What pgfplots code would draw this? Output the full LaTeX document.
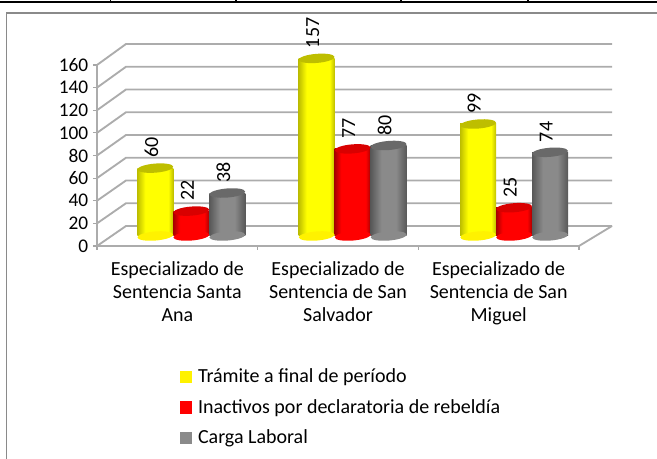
\documentclass[border=0pt]{standalone}
\usepackage{pgfplots}
\pgfplotsset{compat=1.18}
\usepackage{pgfplotstable}
\usepackage{fontspec}
\setmainfont{Carlito}
\definecolor{gridgray}{HTML}{ACACAC}
\definecolor{framegray}{HTML}{8A8A8A}
\definecolor{ydark}{HTML}{BEBE00}
\definecolor{rdark}{HTML}{A80000}
\definecolor{gdark}{HTML}{585858}
\definecolor{gmid}{HTML}{8A8A8A}
\pgfdeclarehorizontalshading{cylyellow}{100bp}{color(0bp)=(ydark); color(25bp)=(ydark); color(36bp)=(yellow); color(68bp)=(yellow); color(75bp)=(ydark); color(100bp)=(ydark)}
\pgfdeclarehorizontalshading{cylred}{100bp}{color(0bp)=(rdark); color(25bp)=(rdark); color(34bp)=(red); color(68bp)=(red); color(75bp)=(rdark); color(100bp)=(rdark)}
\pgfdeclarehorizontalshading{cylgray}{100bp}{color(0bp)=(gdark); color(25bp)=(gdark); color(40bp)=(gmid); color(60bp)=(gmid); color(75bp)=(gdark); color(100bp)=(gdark)}
\pgfdeclareplotmark{cap}{\pgfpathellipse{\pgfpointorigin}{\pgfqpoint{13.4pt}{1.1pt}}{\pgfqpoint{-0.3pt}{3.4pt}}\pgfusepathqfill}
% bar x = group centre -/+ one bar width (36 px of 161 px per group)
\pgfplotstableread{
x y
-0.224 60
0.78 157
1.785 99
}\tramite
\pgfplotstableread{
x y
0 22
1.004 77
2.009 25
}\inactivos
\pgfplotstableread{
x y
0.224 38
1.228 80
2.233 74
}\carga
\pgfplotsset{
  databar/.style={ybar, bar width=27pt, bar shift=0pt, draw=none, shading=#1},
  datalabel/.style={nodes near coords, point meta=explicit symbolic,
    every node near coord/.style={rotate=90, anchor=west, inner sep=0pt, xshift=7.5pt, yshift=3pt, font=\fontsize{15}{15}\selectfont, text=black}},
}
\begin{document}
\begin{tikzpicture}
% background in picture pixels
\begin{axis}[
  at={(0pt,0pt)}, anchor=south west, scale only axis,
  width=492.75pt, height=344.25pt,
  xmin=0, xmax=657, ymin=0, ymax=459, y dir=reverse,
  hide axis, clip=true,
  legend style={at={(0.274,0.197)}, anchor=north west, draw=none, fill=none,
    font=\fontsize{15}{15}\selectfont, row sep=11pt, inner sep=0pt,
    nodes={inner sep=0pt, anchor=west}},
  legend cell align=left,
  legend image code/.code={\fill[#1] (0pt,-4.2pt) rectangle (8.4pt,4.2pt);},
]
\addlegendimage{yellow}
\addlegendentry{\hspace{4.5pt}Trámite a final de período}
\addlegendimage{red}
\addlegendentry{\hspace{4.5pt}Inactivos por declaratoria de rebeldía}
\addlegendimage{gmid}
\addlegendentry{\hspace{4.5pt}Carga Laboral}
\draw[black, line width=1.5pt] (axis cs:0,1.7) -- (axis cs:657,1.7);
\draw[framegray, line width=1.1pt] (axis cs:657,13) -- (axis cs:6.5,13) -- (axis cs:6.5,459);
\pgfplotsinvokeforeach{110.5,236,401,528}{
  \draw[black, line width=0.9pt] (axis cs:#1,0) -- (axis cs:#1,2);
}
\pgfplotsinvokeforeach{0,20,40,60,80,100,120,140,160}{
  \draw[gridgray, line width=1.4pt] (axis cs:97,{246-1.13125*#1}) -- (axis cs:126,{226-1.1375*#1}) -- (axis cs:612,{226-1.1375*#1});
}
\draw[gridgray, line width=1.4pt] (axis cs:579,246) -- (axis cs:612,226);
\end{axis}
% front plane: ticks and labels
\begin{axis}[
  at={(72.75pt,159.75pt)}, anchor=south west, scale only axis,
  width=361.5pt, height=135.75pt,
  xmin=-0.5, xmax=2.5, ymin=0, ymax=160,
  axis lines=left, axis line style={gridgray, line width=1.4pt, -},
  ytick={0,20,...,160},
  xtick={-0.5,0.5,1.5,2.5}, xticklabels={},
  extra x ticks={0,1,2},
  extra x tick labels={Especializado de\\Sentencia Santa\\Ana, Especializado de\\Sentencia de San\\Salvador, Especializado de\\Sentencia de San\\Miguel},
  extra x tick style={major tick length=0pt, tick label style={align=center, yshift=-8.5pt,
     font=\fontsize{15}{17.2}\selectfont}},
  tick style={gridgray, line width=0.8pt, black!35},
  major tick length=3pt, tick align=outside,
  y tick label style={font=\fontsize{14.5}{14.5}\selectfont, /pgf/number format/assume math mode=true},
]
\end{axis}
% bars, half way into the depth of the plot
\begin{axis}[
  at={(83.25pt,167.25pt)}, anchor=south west, scale only axis,
  width=361.5pt, height=135.75pt,
  xmin=-0.5, xmax=2.5, ymin=0, ymax=160,
  hide axis, clip=false,
]
\addplot[only marks, mark=cap, mark options={fill=yellow}] table[x=x, y expr=0] {\tramite};
\addplot[databar=cylyellow] coordinates {(-0.224,60)};
\addplot[databar=cylyellow] coordinates {(0.78,157)};
\addplot[databar=cylyellow] coordinates {(1.785,99)};
\addplot[only marks, mark=cap, mark options={fill=ydark}] table[x=x, y=y] {\tramite};
\addplot[only marks, mark=cap, mark options={fill=red}] table[x=x, y expr=0] {\inactivos};
\addplot[databar=cylred] coordinates {(0,22)};
\addplot[databar=cylred] coordinates {(1.004,77)};
\addplot[databar=cylred] coordinates {(2.009,25)};
\addplot[only marks, mark=cap, mark options={fill=red!85!black}] table[x=x, y=y] {\inactivos};
\addplot[only marks, mark=cap, mark options={fill=gmid}] table[x=x, y expr=0] {\carga};
\addplot[databar=cylgray] coordinates {(0.224,38)};
\addplot[databar=cylgray] coordinates {(1.228,80)};
\addplot[databar=cylgray] coordinates {(2.233,74)};
\addplot[only marks, mark=cap, mark options={fill=gdark!90!white}] table[x=x, y=y] {\carga};
\addplot[draw=none, datalabel] table[x=x, y=y, meta=y] {\tramite};
\addplot[draw=none, datalabel] table[x=x, y=y, meta=y] {\inactivos};
\addplot[draw=none, datalabel] table[x=x, y=y, meta=y] {\carga};
\end{axis}
\end{tikzpicture}
\end{document}
